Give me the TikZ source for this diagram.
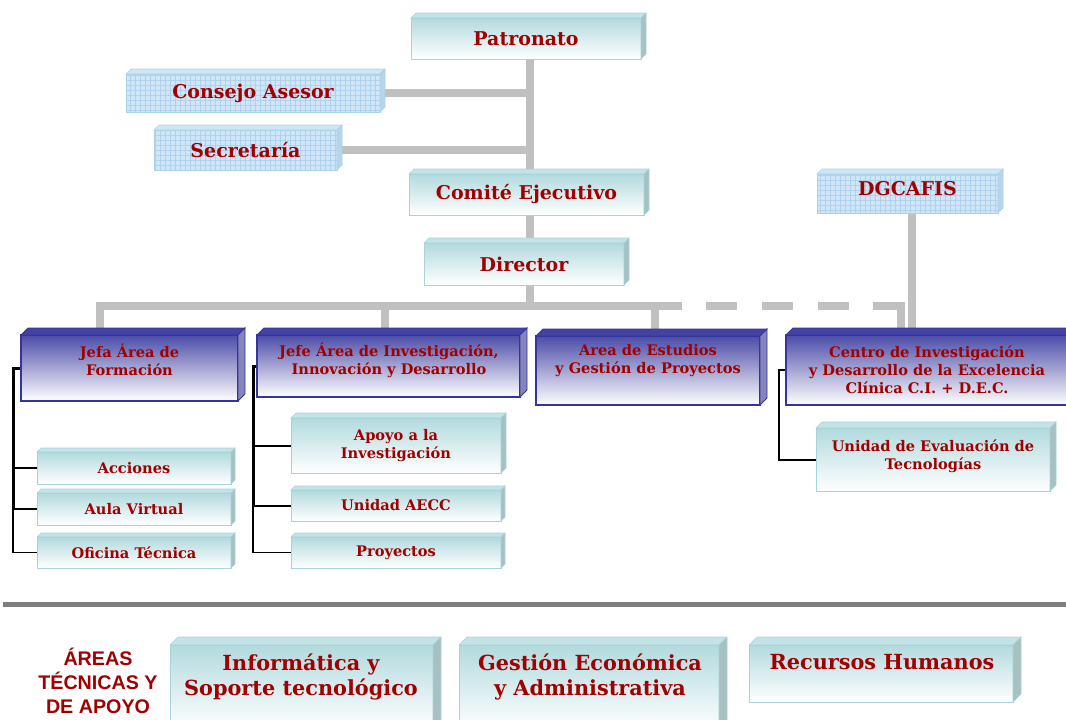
\documentclass[tikz,border=0pt]{standalone}
\usepackage{fontspec}
\setmainfont{DejaVu Serif}
\newfontfamily\arialf{Liberation Sans}
\usetikzlibrary{patterns.meta,backgrounds}
\definecolor{tred}{HTML}{A00000}
\definecolor{cyanT}{HTML}{B2DADE}
\definecolor{cyanB}{HTML}{A6D4D9}
\definecolor{cyanTop}{HTML}{C4E3E6}
\definecolor{cyanSide}{HTML}{A2C0C2}
\definecolor{patF}{HTML}{CFE6F8}
\definecolor{patL}{HTML}{AFD1EE}
\definecolor{patB}{HTML}{A8D4E6}
\definecolor{patSide}{HTML}{B6D5EC}
\definecolor{blueT}{HTML}{4C4CA8}
\definecolor{blueB}{HTML}{3434A0}
\definecolor{blueTop}{HTML}{4343A3}
\definecolor{blueSide}{HTML}{8585BC}
\definecolor{gline}{HTML}{C0C0C0}
\definecolor{sepgray}{HTML}{7F7F7F}
\newcommand\threed[5]{% node, depth, fill, border, width
  \path[fill=#3, draw=#4, line width=#5] (#1.north west) -- ++(#2,-#2) -- ([shift={(#2,-#2)}]#1.north east) -- (#1.north east) -- cycle;
  \path[fill=#3!85!black, draw=#4, line width=#5] (#1.north east) -- ++(#2,-#2) -- ([shift={(#2,-#2)}]#1.south east) -- (#1.south east) -- cycle;}
\newcommand\threedtwo[6]{% node, depth, topfill, sidefill, border, width
  \path[fill=#3, draw=#5, line width=#6] (#1.north west) -- ++(#2,-#2) -- ([shift={(#2,-#2)}]#1.north east) -- (#1.north east) -- cycle;
  \path[fill=#4, draw=#5, line width=#6] (#1.north east) -- ++(#2,-#2) -- ([shift={(#2,-#2)}]#1.south east) -- (#1.south east) -- cycle;}
\tikzset{
  base/.style={inner sep=0pt, outer sep=0pt, align=center, text=tred},
  cyanbox/.style={base, draw=cyanB, line width=1pt, top color=cyanT, bottom color=white},
  patbox/.style={base, draw=patB, line width=1pt, preaction={fill=patF}, pattern={Hatch[distance=5pt,angle=0,line width=0.5pt]}, pattern color=patL},
  bluebox/.style={base, draw=blueB, line width=1.5pt, top color=blueT, bottom color=white},
  txt/.style={inner sep=0pt, align=center, text=tred},
  fbig/.style={font=\bfseries\fontsize{19}{22}\selectfont},
  fmid/.style={font=\bfseries\fontsize{14.6}{18}\selectfont},
  fbot/.style={font=\bfseries\fontsize{20.8}{25}\selectfont},
  gl/.style={line width=8pt, draw=gline},
  blk/.style={draw=black, line width=#1},
  blk/.default=2pt
}
\begin{document}
\begin{tikzpicture}[x=1pt,y=-1pt]
\useasboundingbox (0,0) rectangle (1066,720);
\clip (0,0) rectangle (1066,720);
% top boxes
\node[cyanbox, fbig, minimum width=230, minimum height=41] (pat) at (526,38.5) {Patronato};
\threed{pat}{5}{cyanTop}{cyanB}{0.6pt}
\node[patbox, fbig, minimum width=254, minimum height=38] (cons) at (253,93) {Consejo Asesor};
\threedtwo{cons}{5}{patF}{patSide}{patB}{0.6pt}
\node[patbox, fbig, minimum width=183, minimum height=40] (sec) at (245.5,150) {Secretaría};
\threedtwo{sec}{5}{patF}{patSide}{patB}{0.6pt}
\node[cyanbox, fbig, minimum width=235, minimum height=41] (com) at (526.5,194.5) {Comité Ejecutivo};
\threed{com}{5}{cyanTop}{cyanB}{0.6pt}
\node[cyanbox, fbig, minimum width=200, minimum height=42] (dir) at (524,264) {Director};
\threed{dir}{5}{cyanTop}{cyanB}{0.6pt}
\node[patbox, fbig, minimum width=181, minimum height=39] (dgc) at (907.5,193.5) {};
\node[txt, fbig] (dgct) at (907.5,189) {DGCAFIS};
\threedtwo{dgc}{5}{patF}{patSide}{patB}{0.6pt}
% level 2 blue boxes
\node[bluebox, minimum width=217, minimum height=66] (jefa) at (129.5,368) {};
\threedtwo{jefa}{7}{blueTop}{blueSide}{blueB}{0.8pt}
\node[txt, fmid] (jefat) at (129.5,360) {Jefa Área de\\Formación};
\node[bluebox, minimum width=263, minimum height=62] (jefe) at (388.5,366) {};
\threedtwo{jefe}{7}{blueTop}{blueSide}{blueB}{0.8pt}
\node[txt, fmid] (jefet) at (389,360) {Jefe Área de Investigación,\\Innovación y Desarrollo};
\node[bluebox, minimum width=224, minimum height=69] (area) at (648,370.5) {};
\threedtwo{area}{7}{blueTop}{blueSide}{blueB}{0.8pt}
\node[txt, fmid] (areat) at (648,361) {Area de Estudios\\y Gestión de Proyectos};
\node[bluebox, minimum width=282, minimum height=70] (cen) at (927,370) {};
\threedtwo{cen}{7}{blueTop}{blueSide}{blueB}{0.8pt}
\node[txt, fmid] (cent) at (927,370) {Centro de Investigación\\y Desarrollo de la Excelencia\\Clínica C.I. + D.E.C.};
% sub boxes
\node[cyanbox, fmid, minimum width=194, minimum height=32] (acc) at (134,468) {Acciones};
\threed{acc}{4}{cyanTop}{cyanB}{0.6pt}
\node[cyanbox, fmid, minimum width=194, minimum height=32] (aula) at (134,509) {Aula Virtual};
\threed{aula}{4}{cyanTop}{cyanB}{0.6pt}
\node[cyanbox, fmid, minimum width=194, minimum height=31] (ofi) at (134,552.5) {Oficina Técnica};
\threed{ofi}{4}{cyanTop}{cyanB}{0.6pt}
\node[cyanbox, fmid, minimum width=210, minimum height=55] (apo) at (396,445.5) {Apoyo a la\\Investigación};
\threed{apo}{5}{cyanTop}{cyanB}{0.6pt}
\node[cyanbox, fmid, minimum width=210, minimum height=31] (aecc) at (396,505.5) {Unidad AECC};
\threed{aecc}{4}{cyanTop}{cyanB}{0.6pt}
\node[cyanbox, fmid, minimum width=210, minimum height=31] (proy) at (396,552.5) {Proyectos};
\threed{proy}{4}{cyanTop}{cyanB}{0.6pt}
\node[cyanbox, fmid, minimum width=234, minimum height=63] (uni) at (933,459.5) {};
\threed{uni}{6}{cyanTop}{cyanB}{0.6pt}
\node[txt, fmid] (unit) at (933,456) {Unidad de Evaluación de\\Tecnologías};
% bottom
\node[txt, font=\arialf\bfseries\fontsize{19.7}{24}\selectfont] (areas) at (98,681) {ÁREAS\\TÉCNICAS Y\\DE APOYO};
\node[cyanbox, minimum width=263, minimum height=85] (inf) at (301.5,687.5) {};
\threed{inf}{8}{cyanTop}{cyanB}{0.6pt}
\node[txt, fbot] (inft) at (301,677) {Informática y\\Soporte tecnológico};
\node[cyanbox, minimum width=260, minimum height=85] (ges) at (589,687.5) {};
\threed{ges}{8}{cyanTop}{cyanB}{0.6pt}
\node[txt, fbot] (gest) at (590,677) {Gestión Económica\\y Administrativa};
\node[cyanbox, minimum width=264, minimum height=57] (rh) at (881,673.5) {};
\threed{rh}{8}{cyanTop}{cyanB}{0.6pt}
\node[txt, fbot] (rht) at (882,662) {Recursos Humanos};
% separator
\coordinate (sL) at (3,604);
\coordinate (sR) at (1066,604);
\draw[line width=5pt, draw=sepgray] (sL) -- (sR);
% connectors
\coordinate (tx) at (530,0);
\coordinate (bar) at (0,306);
\coordinate (d1) at (100,306);
\coordinate (d2) at (385,306);
\coordinate (d3) at (655,306);
\coordinate (bR) at (682,306);
\coordinate (d4) at (901,306);
\coordinate (dg) at (912,0);
\coordinate (fx) at (13,0);
\coordinate (ix) at (253,0);
\coordinate (cx) at (779,0);
\begin{pgfonlayer}{background}
\draw[gl] (pat.south -| tx) -- (dir.north -| tx);
\draw[gl] (dir.south -| tx) -- (bar -| tx);
\draw[gl] (cons.east) -- (cons.east -| tx);
\draw[gl] (sec.east) -- (sec.east -| tx);
\draw[gl] (jefa.north -| d1) -- (d1) -- (bR);
\draw[gl] (d2) -- (d2 |- jefe.north);
\draw[gl] (d3) -- (d3 |- area.north);
\draw[gl, dash pattern=on 0pt off 24pt on 31pt off 25pt on 31pt off 25pt on 31pt off 24pt on 80pt] (bR) -- (d4) -- (d4 |- cen.north);
\draw[gl] (dgc.south -| dg) -- (cen.north -| dg);
% black
\draw[blk=3pt] (jefa.west) -| (aula.west -| fx);
\draw[blk=1.5pt] (aula.west -| fx) |- (ofi.west);
\draw[blk] (acc.west -| fx) -- (acc.west);
\draw[blk] (aula.west -| fx) -- (aula.west);
\draw[blk=3pt] (jefe.west) -| (aecc.west -| ix);
\draw[blk=1.5pt] (aecc.west -| ix) |- (proy.west);
\draw[blk] (apo.west -| ix) -- (apo.west);
\draw[blk] (aecc.west -| ix) -- (aecc.west);
\draw[blk] (cen.west) -| (uni.west -| cx) -- (uni.west);
\end{pgfonlayer}
\end{tikzpicture}
\end{document}
